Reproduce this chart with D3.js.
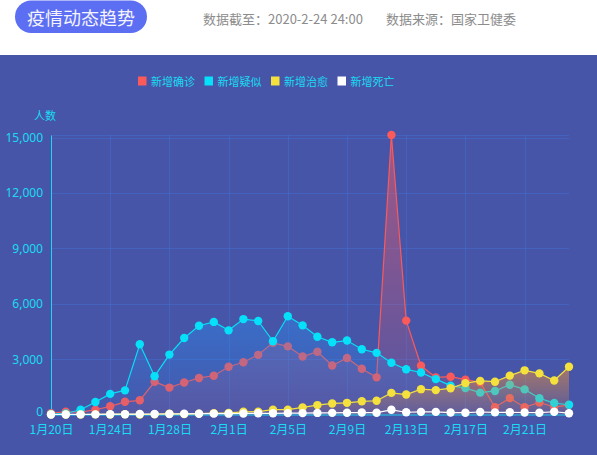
<!DOCTYPE html>
<html>
<head>
<meta charset="utf-8">
<script src="https://cdn.jsdelivr.net/npm/d3@7/dist/d3.min.js"></script>
<style>
  body { margin: 0; background: #fff; }
  svg { display: block; font-family: "Noto Sans CJK SC", "Noto Sans", sans-serif; }
</style>
</head>
<body>
<div class="svg-container"></div>
<script>
var dates = ['1月20日','1月21日','1月22日','1月23日','1月24日','1月25日','1月26日','1月27日','1月28日','1月29日','1月30日','1月31日',
  '2月1日','2月2日','2月3日','2月4日','2月5日','2月6日','2月7日','2月8日','2月9日','2月10日','2月11日','2月12日',
  '2月13日','2月14日','2月15日','2月16日','2月17日','2月18日','2月19日','2月20日','2月21日','2月22日','2月23日','2月24日'];

var confirmAdd = [77,149,131,259,444,688,769,1771,1459,1737,1982,2102,
  2590,2829,3235,3887,3694,3143,3399,2656,3062,2478,2015,15152,5090,2641,2009,2048,1886,1749,394,889,397,648,409,508];
var suspectAdd = [27,53,257,680,1118,1309,3806,2077,3248,4148,4812,5019,
  4562,5173,5072,3971,5328,4833,4214,3916,4008,3536,3342,2807,2450,2277,1918,1563,1432,1185,1277,1614,1361,882,620,530];
var healAdd = [0,0,0,6,3,11,2,9,43,21,47,72,
  85,147,157,262,261,387,510,600,632,716,744,1171,1081,1373,1323,1425,1701,1824,1779,2109,2394,2231,1846,2589];
var deadAdd = [0,3,8,8,16,15,24,26,26,38,43,46,
  45,57,64,65,73,73,86,89,97,108,97,254,121,143,142,105,98,136,114,118,109,97,150,71];

var seriesNames = ['新增确诊', '新增疑似', '新增治愈', '新增死亡'];
var yTicks = [0, 3000, 6000, 9000, 12000, 15000];
var xTickLabels = ['1月20日','1月24日','1月28日','2月1日','2月5日','2月9日','2月13日','2月17日','2月21日'];

var width = 597, height = 455;
var cyanText = '#19dcf2';

var series = [
  { name: seriesNames[0], values: confirmAdd, color: '#fa5a5a', area: ['rgba(250,90,100,0.5)', 'rgba(250,90,100,0.08)'] },
  { name: seriesNames[1], values: suspectAdd, color: '#06e0f8', area: ['rgba(40,140,240,0.45)', 'rgba(40,140,240,0.04)'] },
  { name: seriesNames[2], values: healAdd, color: '#f4e13e', area: ['rgba(235,145,60,0.58)', 'rgba(235,145,60,0.08)'] },
  { name: seriesNames[3], values: deadAdd, color: '#ffffff', area: null }
];

var svg = d3.select('.svg-container').append('svg')
  .attr('width', width)
  .attr('height', height);

// header
svg.append('rect').attr('width', width).attr('height', 55).attr('fill', '#fff');
svg.append('rect')
  .attr('x', 15).attr('y', 0.5).attr('width', 132).attr('height', 32.5)
  .attr('rx', 16.25)
  .attr('fill', '#5c6ff3');
svg.append('text')
  .attr('x', 81).attr('y', 17)
  .attr('text-anchor', 'middle')
  .attr('dominant-baseline', 'central')
  .attr('font-size', 18)
  .attr('fill', '#f4f4ff')
  .text('疫情动态趋势');
svg.append('text')
  .attr('x', 203).attr('y', 18)
  .attr('dominant-baseline', 'central')
  .attr('font-size', 13)
  .attr('fill', '#8c8c8c')
  .text('数据截至：2020-2-24 24:00');
svg.append('text')
  .attr('x', 386).attr('y', 18)
  .attr('dominant-baseline', 'central')
  .attr('font-size', 13)
  .attr('fill', '#8c8c8c')
  .text('数据来源：国家卫健委');

// chart panel
svg.append('rect').attr('y', 55).attr('width', width).attr('height', height - 55).attr('fill', '#4755a8');

var defs = svg.append('defs');
series.forEach(function(s, i) {
  if (!s.area) return;
  var g = defs.append('linearGradient')
    .attr('id', 'grad' + i)
    .attr('x1', 0).attr('y1', 0).attr('x2', 0).attr('y2', 1);
  g.append('stop').attr('offset', '0%').attr('stop-color', s.area[0]);
  g.append('stop').attr('offset', '100%').attr('stop-color', s.area[1]);
});

// legend
var legend = svg.append('g').attr('transform', 'translate(138,81)');
var lx = 0;
series.forEach(function(s) {
  var item = legend.append('g').attr('transform', 'translate(' + lx + ',0)');
  item.append('rect').attr('x', 0).attr('y', -4.5).attr('width', 8.5).attr('height', 9).attr('fill', s.color);
  var t = item.append('text')
    .attr('x', 13).attr('y', 0)
    .attr('dominant-baseline', 'central')
    .attr('font-size', 11)
    .attr('fill', cyanText)
    .text(s.name);
  lx += 13 + t.node().getComputedTextLength() + 9.5;
});

svg.append('text')
  .attr('x', 45).attr('y', 115)
  .attr('text-anchor', 'middle')
  .attr('dominant-baseline', 'central')
  .attr('font-size', 11)
  .attr('fill', cyanText)
  .text('人数');

var x = d3.scalePoint().domain(dates).range([51, 569]);
var yMax = d3.max(confirmAdd.concat(suspectAdd, healAdd, deadAdd));
var y = d3.scaleLinear().domain([0, yMax]).range([414.5, 135]);

// grid
var grid = svg.append('g').attr('stroke', 'rgba(60,120,225,0.38)').attr('stroke-width', 1);
grid.selectAll('.hline')
  .data(yTicks.slice(1).concat([yMax]))
  .enter().append('line')
  .attr('x1', 51).attr('x2', 569)
  .attr('y1', function(d) { return Math.round(y(d)) + 0.5; })
  .attr('y2', function(d) { return Math.round(y(d)) + 0.5; });
grid.selectAll('.vline')
  .data(xTickLabels.slice(1))
  .enter().append('line')
  .attr('x1', function(d) { return Math.round(x(d)) + 0.5; })
  .attr('x2', function(d) { return Math.round(x(d)) + 0.5; })
  .attr('y1', y(yMax)).attr('y2', y(0));

// axes
var yAxis = svg.append('g')
  .attr('transform', 'translate(51,0)')
  .call(d3.axisLeft(y).tickValues(yTicks).tickSize(0).tickSizeOuter(0).tickPadding(8).tickFormat(d3.format(',')));
var xAxis = svg.append('g')
  .attr('transform', 'translate(0,' + y(0) + ')')
  .call(d3.axisBottom(x).tickValues(xTickLabels).tickSize(0).tickSizeOuter(0).tickPadding(11));
yAxis.select('.domain').attr('stroke', '#1ad6f2').attr('stroke-width', 1);
yAxis.selectAll('text')
  .attr('fill', cyanText)
  .attr('font-size', 12)
  .attr('font-family', '"Noto Sans", sans-serif');
yAxis.selectAll('.tick').filter(function(d) { return d === 0; })
  .select('text').attr('dy', '0.12em');
xAxis.select('.domain').attr('stroke', '#1ad6f2').attr('stroke-width', 1);
xAxis.selectAll('text')
  .attr('fill', cyanText)
  .attr('font-size', 12)
  .attr('font-family', '"Noto Sans CJK SC", "Noto Sans", sans-serif');

// series
var area = d3.area()
  .x(function(d, i) { return x(dates[i]); })
  .y0(y(0))
  .y1(function(d) { return y(d); });
var line = d3.line()
  .x(function(d, i) { return x(dates[i]); })
  .y(function(d) { return y(d); });

series.forEach(function(s, i) {
  var g = svg.append('g');
  if (s.area) {
    g.append('path')
      .attr('d', area(s.values))
      .attr('fill', 'url(#grad' + i + ')');
  }
  g.append('path')
    .attr('d', line(s.values))
    .attr('fill', 'none')
    .attr('stroke', s.color)
    .attr('stroke-width', 1.2);
  g.selectAll('circle')
    .data(s.values)
    .enter().append('circle')
    .attr('cx', function(d, j) { return x(dates[j]); })
    .attr('cy', function(d) { return y(d); })
    .attr('r', 4.2)
    .attr('fill', s.color);
});
</script>
</body>
</html>
